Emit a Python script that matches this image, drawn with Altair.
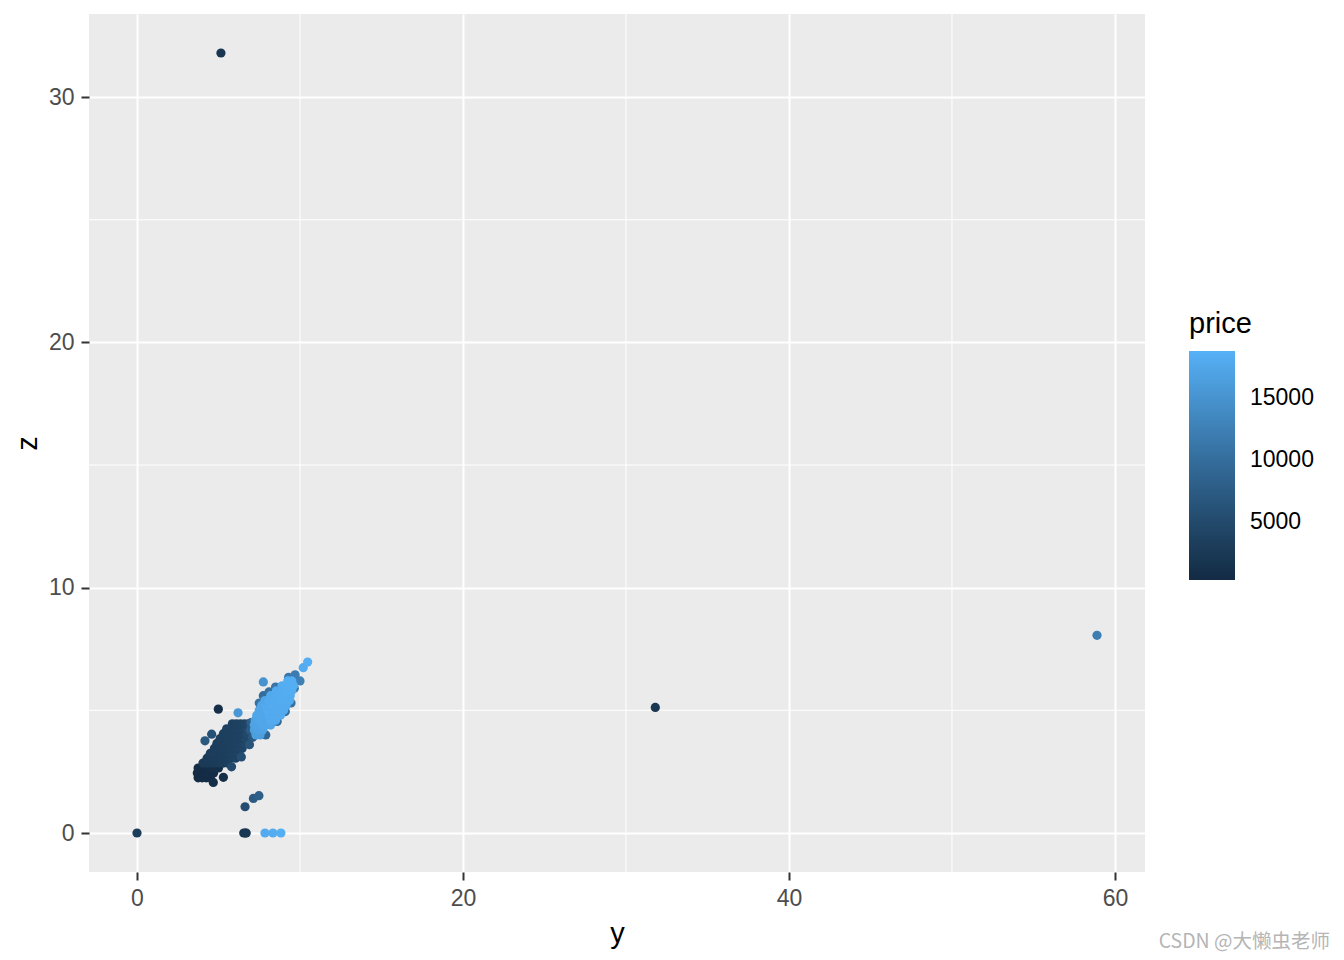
import altair as alt
import pandas as pd

# ---- point data: y (width), z (depth), price ----
y_vals = [
    # darkest lower-left blob
    3.75, 4.00, 4.25, 4.50,
    3.70, 3.95, 4.20, 4.45, 4.70,
    3.75, 4.00, 4.25, 4.50, 4.75, 5.00,
    # dark band
    4.05, 4.30, 4.55, 4.80, 5.05, 5.30, 5.55,
    4.30, 4.55, 4.80, 5.05, 5.30, 5.55, 5.80, 6.05,
    4.50, 4.75, 5.00, 5.25, 5.50, 5.75, 6.00, 6.20,
    4.75, 5.00, 5.25, 5.50, 5.75, 6.00, 6.25, 6.45,
    4.90, 5.15, 5.40, 5.65, 5.90, 6.15, 6.40, 6.60,
    5.10, 5.35, 5.60, 5.85, 6.10, 6.35, 6.60, 6.70,
    5.30, 5.55, 5.80, 6.05, 6.30, 6.55, 6.75,
    5.50, 5.75, 6.00, 6.25, 6.50, 6.75,
    5.85, 6.10, 6.35, 6.60, 6.85,
    # medium transition
    7.00, 6.95, 7.10, 6.90, 6.40, 5.80,
    # medium rim of the light band
    7.50, 7.75, 8.10, 8.50, 9.30, 9.70, 10.00, 7.90, 8.60, 9.10, 9.45, 9.65,
    # light band
    7.30, 7.55,
    7.20, 7.45, 7.70,
    7.20, 7.45, 7.70, 7.95, 8.20,
    7.25, 7.50, 7.75, 8.00, 8.25, 8.50,
    7.35, 7.60, 7.85, 8.10, 8.35, 8.60, 8.80,
    7.50, 7.75, 8.00, 8.25, 8.50, 8.75, 9.00,
    7.65, 7.90, 8.15, 8.40, 8.65, 8.90, 9.15,
    7.85, 8.10, 8.35, 8.60, 8.85, 9.10, 9.35,
    8.20, 8.45, 8.70, 8.95, 9.20, 9.40,
    8.55, 8.80, 9.05, 9.30, 9.50,
    8.90, 9.15, 9.40, 9.60,
    9.25, 9.50,
    # isolated points
    10.20, 10.47, 7.75, 6.20, 4.17, 4.58, 4.99, 5.30, 4.68, 6.63, 7.14, 7.48,
    0.00, 6.55, 6.65, 6.70, 7.85, 8.34, 8.83,
    5.15, 31.80, 58.90,
]
z_vals = [
    2.25, 2.25, 2.25, 2.25,
    2.45, 2.45, 2.45, 2.45, 2.45,
    2.65, 2.65, 2.65, 2.65, 2.65, 2.65,
    2.85, 2.85, 2.85, 2.85, 2.85, 2.85, 2.85,
    3.05, 3.05, 3.05, 3.05, 3.05, 3.05, 3.05, 3.05,
    3.25, 3.25, 3.25, 3.25, 3.25, 3.25, 3.25, 3.25,
    3.45, 3.45, 3.45, 3.45, 3.45, 3.45, 3.45, 3.45,
    3.65, 3.65, 3.65, 3.65, 3.65, 3.65, 3.65, 3.65,
    3.85, 3.85, 3.85, 3.85, 3.85, 3.85, 3.85, 3.85,
    4.05, 4.05, 4.05, 4.05, 4.05, 4.05, 4.05,
    4.25, 4.25, 4.25, 4.25, 4.25, 4.25,
    4.45, 4.45, 4.45, 4.45, 4.45,
    4.50, 4.20, 3.90, 3.60, 3.10, 2.70,
    5.30, 5.60, 5.75, 5.95, 6.35, 6.45, 6.20, 4.00, 4.55, 4.95, 5.30, 5.90,
    4.00, 4.00,
    4.20, 4.20, 4.20,
    4.40, 4.40, 4.40, 4.40, 4.40,
    4.60, 4.60, 4.60, 4.60, 4.60, 4.60,
    4.80, 4.80, 4.80, 4.80, 4.80, 4.80, 4.80,
    5.00, 5.00, 5.00, 5.00, 5.00, 5.00, 5.00,
    5.20, 5.20, 5.20, 5.20, 5.20, 5.20, 5.20,
    5.40, 5.40, 5.40, 5.40, 5.40, 5.40, 5.40,
    5.60, 5.60, 5.60, 5.60, 5.60, 5.60,
    5.80, 5.80, 5.80, 5.80, 5.80,
    6.00, 6.00, 6.00, 6.00,
    6.20, 6.20,
    6.74, 6.97, 6.16, 4.90, 3.76, 4.03, 5.05, 2.27, 2.06, 1.07, 1.41, 1.52,
    0.00, 0.00, 0.00, 0.00, 0.00, 0.00, 0.00,
    31.80, 5.12, 8.06,
]
prices = [
    450, 500, 550, 600,
    400, 480, 560, 640, 700,
    500, 600, 700, 800, 900, 1000,
    2600, 2700, 2800, 2900, 3000, 3200, 3400,
    2800, 2900, 3000, 3100, 3200, 3400, 3600, 3800,
    3000, 3100, 3200, 3300, 3400, 3600, 3800, 4000,
    3100, 3200, 3300, 3400, 3500, 3700, 3900, 4200,
    3200, 3300, 3400, 3500, 3600, 3800, 4000, 4400,
    3300, 3400, 3500, 3600, 3700, 3900, 4100, 4600,
    3400, 3500, 3600, 3700, 3800, 4000, 4800,
    3500, 3600, 3700, 3800, 4000, 4800,
    3600, 3700, 3800, 4000, 4800,
    8000, 7500, 7000, 6500, 5500, 5000,
    10500, 10000, 10500, 11000, 11500, 12000, 12500, 9000, 9500, 10000, 10500, 11000,
    16500, 16500,
    16500, 17000, 17000,
    17000, 17000, 17500, 17500, 17500,
    17000, 17500, 17500, 17500, 18000, 18000,
    17500, 17500, 17500, 18000, 18000, 18000, 18000,
    17500, 17500, 18000, 18000, 18000, 18000, 18000,
    17500, 18000, 18000, 18000, 18000, 18000, 18000,
    17500, 18000, 18000, 18000, 18200, 18200, 18200,
    18000, 18000, 18200, 18200, 18200, 18200,
    18000, 18200, 18200, 18300, 18300,
    18200, 18300, 18300, 18400,
    18400, 18500,
    18000, 18500, 15000, 15500, 7000, 6000, 1000, 900, 800, 5500, 7500, 8000,
    3000, 2000, 2500, 2200, 18000, 18200, 18400,
    2000, 2075, 12210,
]

x_major = [0, 20, 40, 60]
y_major = [0, 10, 20, 30]
x_minor = [10, 30, 50]
y_minor = [5, 15, 25]
legend_values = [5000, 10000, 15000]

df = pd.DataFrame({"y": y_vals, "z": z_vals, "price": prices})

FONT = "Liberation Sans"
xscale = alt.Scale(domain=[-2.945, 61.845], nice=False, zero=False)
yscale = alt.Scale(domain=[-1.59, 33.39], nice=False, zero=False)

common_axis = dict(format="d", grid=True, gridColor="white", gridWidth=2,
                   domain=False, tickColor="#333333", tickSize=8, tickWidth=2,
                   labelColor="#4D4D4D", labelFontSize=23, labelFont=FONT,
                   titleFont=FONT, titleFontSize=29, titleFontWeight="normal", titleColor="black")
xaxis = alt.Axis(values=x_major, labelPadding=7, titlePadding=9, **common_axis)
yaxis = alt.Axis(values=y_major, labelPadding=7, titlePadding=6, **common_axis)

minor_x = alt.Chart(pd.DataFrame({"y": x_minor})).mark_rule(color="white", strokeWidth=1).encode(
    x=alt.X("y:Q", scale=xscale, axis=xaxis, title="y")
)
minor_y = alt.Chart(pd.DataFrame({"z": y_minor})).mark_rule(color="white", strokeWidth=1).encode(
    y=alt.Y("z:Q", scale=yscale, axis=yaxis, title="z")
)

points = alt.Chart(df).mark_circle(size=85, opacity=1).encode(
    x=alt.X("y:Q", scale=xscale, title="y", axis=xaxis),
    y=alt.Y("z:Q", scale=yscale, title="z", axis=yaxis),
    color=alt.Color("price:Q",
                    scale=alt.Scale(domain=[326, 18823], range=["#132B43", "#56B1F7"], interpolate="lab"),
                    legend=alt.Legend(orient="none", legendX=1100, legendY=296, values=legend_values,
                                      format="d",
                                      gradientLength=229, gradientThickness=46, gradientStrokeWidth=0,
                                      title="price", titleFont=FONT, titleFontSize=29,
                                      titleFontWeight="normal", titleColor="black", titlePadding=12,
                                      labelFont=FONT, labelFontSize=23, labelColor="black",
                                      labelOffset=15, direction="vertical")),
)

watermark = alt.Chart(pd.DataFrame({"t": ["CSDN @大懒虫老师"]})).mark_text(
    align="right", baseline="middle", fontSize=19.5, color="#B5B5B5", font="Noto Sans CJK SC"
).encode(text="t:N", x=alt.value(1241), y=alt.value(928))

chart = alt.layer(minor_x, minor_y, points, watermark).properties(
    width=1056, height=858,
    autosize=alt.AutoSizeParams(type="none"),
    padding={"left": 81, "top": 6, "right": 191, "bottom": 86},
    background="white",
).configure_view(fill="#EBEBEB", stroke=None)

chart.save("out.html", embed_options={"renderer": "svg", "actions": False})
